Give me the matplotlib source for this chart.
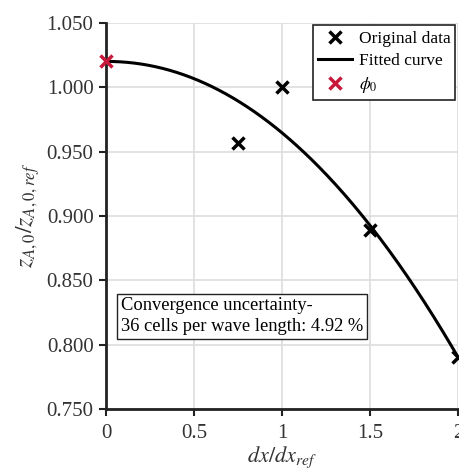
import numpy as np
import matplotlib.pyplot as plt

plt.rcParams['font.family'] = ['Liberation Serif', 'DejaVu Serif']
plt.rcParams['mathtext.fontset'] = 'stix'

# Data
dx_ratio = [0.75, 1.0, 1.5, 2.0]
z_ratio = [0.957, 1.000, 0.889, 0.790]

# Extrapolated value and fit parameters (phi = phi0 - a * h^p)
phi0_x = 0.0
phi0 = 1.020
fit_a = 0.0555
fit_p = 2.05

x_ticks = [0, 0.5, 1, 1.5, 2]
x_tick_labels = ['0', '0.5', '1', '1.5', '2']
y_ticks = [0.75, 0.80, 0.85, 0.90, 0.95, 1.00, 1.05]

h = np.linspace(0, 2, 200)
fitted = phi0 - fit_a * h ** fit_p

fig = plt.figure(figsize=(4.59, 4.75), dpi=100)
ax = fig.add_axes([0.231, 0.139, 0.767, 0.813])

ax.plot(dx_ratio, z_ratio, 'x', color='black', markersize=9, markeredgewidth=2.5,
        label='Original data', zorder=3)
ax.plot(h, fitted, '-', color='black', linewidth=2.2, label='Fitted curve', zorder=2)
ax.plot([phi0_x], [phi0], 'x', color='#c8193c', markersize=9, markeredgewidth=2.5,
        label=r'$\phi_0$', zorder=4, clip_on=False)

ax.set_xlim(0, 2)
ax.set_ylim(0.75, 1.05)
ax.set_xticks(x_ticks)
ax.set_xticklabels(x_tick_labels)
ax.set_yticks(y_ticks)
ax.set_yticklabels(['%.3f' % v for v in y_ticks])
ax.tick_params(labelsize=15, labelcolor='#333333', direction='out', length=5, width=1.5,
               color='#222222', pad=4)
ax.tick_params(axis='x', pad=6)
ax.grid(True, color='#dddddd', linewidth=1.2)
ax.set_axisbelow(True)
for s in ['top', 'right']:
    ax.spines[s].set_visible(False)
for s in ['left', 'bottom']:
    ax.spines[s].set_linewidth(2)
    ax.spines[s].set_color('#222222')

ax.set_xlabel(r'$dx/dx_{ref}$', fontsize=16, labelpad=1, color='#333333')
ax.set_ylabel(r'$z_{A,0}/z_{A,0,ref}$', fontsize=17, labelpad=3, color='#333333')

leg = ax.legend(loc='upper right', fontsize=12.5, frameon=True, fancybox=False,
                edgecolor='#222222', framealpha=1, borderpad=0.3, handlelength=2.0,
                handletextpad=0.35, labelspacing=0.35, borderaxespad=0.15)
leg.get_frame().set_linewidth(1.2)

ax.text(0.085, 0.822, 'Convergence uncertainty-\n36 cells per wave length: 4.92 %',
        fontsize=13.3, va='center', ha='left', linespacing=1.3,
        bbox=dict(boxstyle='square,pad=0.2', facecolor='white', edgecolor='#222222',
                  linewidth=1.0))

fig.savefig('out.png', dpi=100)
